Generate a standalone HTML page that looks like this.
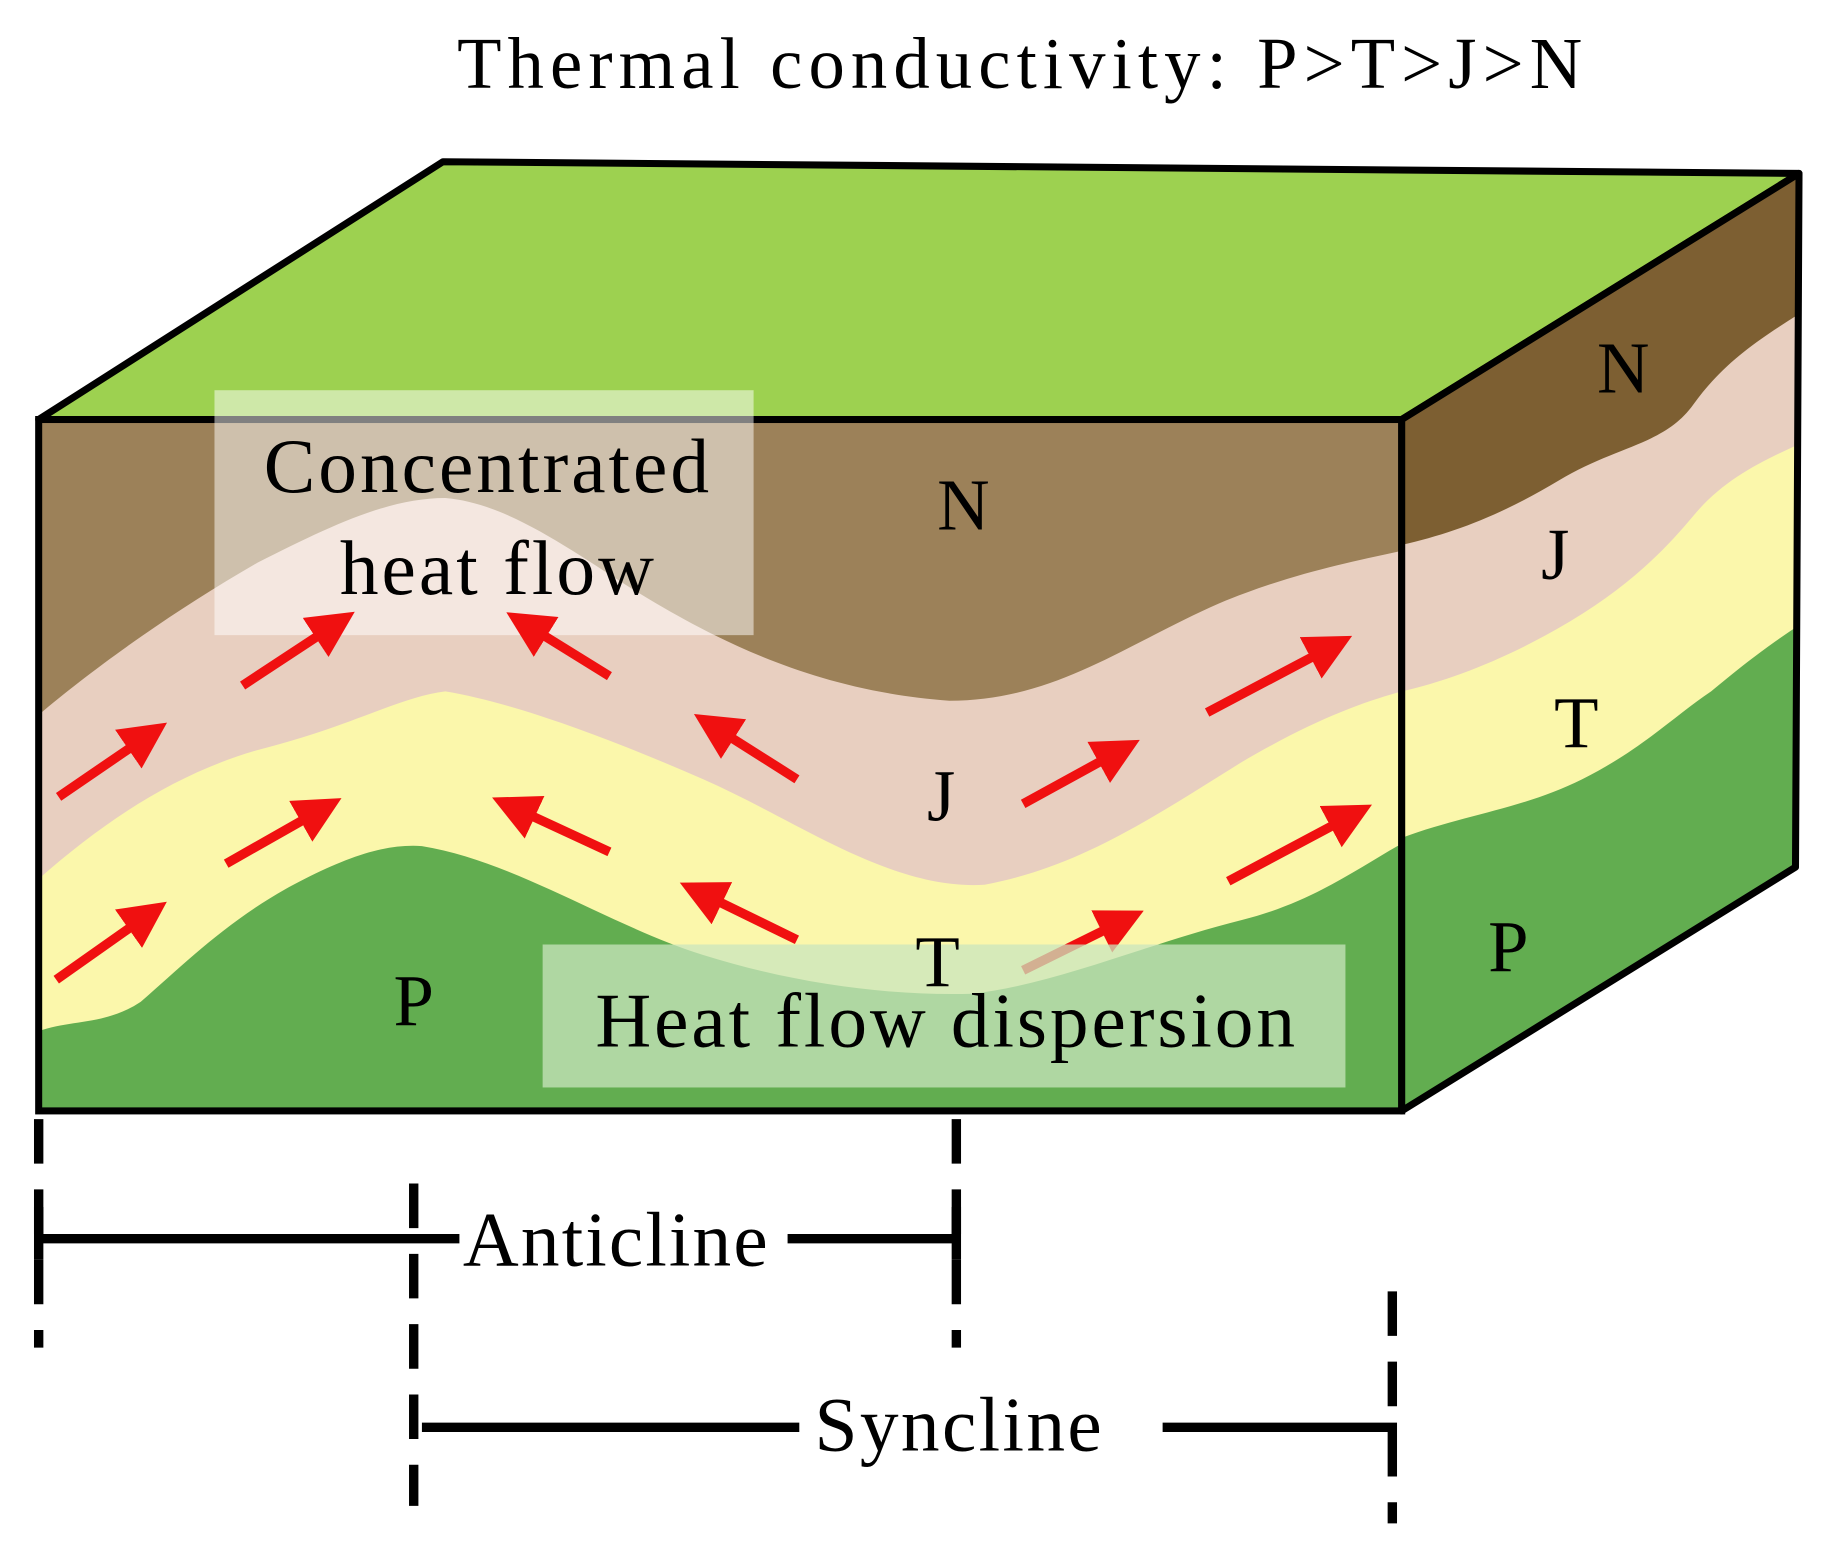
<!DOCTYPE html>
<html><head><meta charset="utf-8"><style>html,body{margin:0;padding:0;background:#fff}svg{display:block}</style></head>
<body>
<svg width="1833" height="1548" viewBox="0 0 1564 1321" preserveAspectRatio="none" xmlns="http://www.w3.org/2000/svg" font-family="Liberation Serif, serif">
<rect width="1564" height="1321" fill="#fff"/>
<text x="390" y="75" font-size="62" textLength="960" lengthAdjust="spacing">Thermal conductivity: P&gt;T&gt;J&gt;N</text>
<polygon points="33,358 378,138 1535,148 1196,358" fill="#9dd150" stroke="#000" stroke-width="6" stroke-linejoin="round"/>
<rect x="33" y="358" width="1163" height="590" fill="#9c8159"/>
<path d="M33,610 C80,570 150,520 220,480 C280,450 330,425 380,425 C440,430 500,480 560,515 C620,550 700,590 810,598 C900,598 960,550 1040,515 C1100,490 1150,480 1196,470 L1196,948 L33,948 Z" fill="#e8cfc0"/>
<path d="M33,750 C90,700 150,660 220,640 C300,620 340,595 380,590 C440,600 520,630 600,665 C680,700 760,760 840,755 C920,740 980,700 1060,650 C1120,615 1160,600 1196,590 L1196,948 L33,948 Z" fill="#fbf7ab"/>
<path d="M33,880 C60,870 90,875 120,855 C160,820 200,780 260,750 C300,730 330,720 360,722 C440,735 520,790 600,815 C680,840 760,850 830,848 C900,840 980,805 1060,785 C1120,770 1160,740 1196,720 L1196,948 L33,948 Z" fill="#62ad50"/>
<rect x="33" y="358" width="1163" height="590" fill="none" stroke="#000" stroke-width="6"/>
<polygon points="1196,358 1535,148 1532,740 1196,948" fill="#7d5f32"/>
<path d="M1196,465 C1240,455 1280,440 1330,410 C1380,380 1420,380 1445,345 C1470,310 1500,290 1535,268 L1532,740 L1196,948 Z" fill="#e8cfc0"/>
<path d="M1196,590 C1240,580 1290,560 1340,530 C1390,500 1420,470 1445,440 C1470,410 1500,395 1533,380 L1532,740 L1196,948 Z" fill="#fbf7ab"/>
<path d="M1196,715 C1250,695 1300,690 1350,665 C1400,640 1430,610 1460,590 C1490,565 1510,550 1533,535 L1532,740 L1196,948 Z" fill="#62ad50"/>
<polygon points="1196,358 1535,148 1532,740 1196,948" fill="none" stroke="#000" stroke-width="6" stroke-linejoin="round"/>
<rect x="183" y="333" width="460" height="209" fill="#fff" opacity="0.5"/>
<defs><marker id="a" markerWidth="5" markerHeight="5" refX="2.5" refY="2.5" orient="auto" markerUnits="strokeWidth"><path d="M0,0 L5,2.5 L0,5 Z" fill="#f01010"/></marker></defs>
<g stroke="#f01010" stroke-width="8" marker-end="url(#a)">
<line x1="50" y1="680" x2="126" y2="628"/>
<line x1="207" y1="585" x2="286" y2="533"/>
<line x1="520" y1="577" x2="449" y2="533"/>
<line x1="680" y1="665" x2="609" y2="620"/>
<line x1="873" y1="686" x2="955" y2="641"/>
<line x1="1030" y1="608" x2="1136" y2="552"/>
<line x1="48" y1="836" x2="126" y2="781"/>
<line x1="193" y1="737" x2="274" y2="691"/>
<line x1="520" y1="727" x2="438" y2="689"/>
<line x1="680" y1="802" x2="598" y2="762"/>
<line x1="873" y1="828" x2="958" y2="786"/>
<line x1="1048" y1="752" x2="1153" y2="696"/>
</g>
<rect x="463" y="806" width="685" height="122" fill="#c9e6bd" opacity="0.75"/>
<g font-size="62" text-anchor="middle">
<text x="822" y="452">N</text><text x="803" y="700">J</text><text x="800" y="842">T</text><text x="353" y="875">P</text>
<text x="1385" y="335">N</text><text x="1327" y="494">J</text><text x="1345" y="638">T</text><text x="1287" y="829">P</text>
</g>
<g font-size="66">
<text x="225" y="420" textLength="380" lengthAdjust="spacing">Concentrated</text>
<text x="290" y="507" textLength="268" lengthAdjust="spacing">heat flow</text>
<text x="508" y="893" textLength="597" lengthAdjust="spacing">Heat flow dispersion</text>
<text x="395" y="1080" textLength="260" lengthAdjust="spacing">Anticline</text>
<text x="695" y="1238" textLength="245" lengthAdjust="spacing">Syncline</text>
</g>
<g stroke="#000" stroke-width="8" stroke-dasharray="38,22">
<line x1="33" y1="955" x2="33" y2="1150"/>
<line x1="353" y1="1010" x2="353" y2="1285"/>
<line x1="816" y1="955" x2="816" y2="1150"/>
<line x1="1188" y1="1102" x2="1188" y2="1300"/>
</g>
<g stroke="#000" stroke-width="8">
<line x1="33" y1="1057" x2="392" y2="1057"/>
<line x1="672" y1="1057" x2="816" y2="1057"/>
<line x1="33" y1="1030" x2="33" y2="1075"/>
<line x1="816" y1="1030" x2="816" y2="1075"/>
<line x1="360" y1="1218" x2="682" y2="1218"/>
<line x1="992" y1="1218" x2="1192" y2="1218"/>
</g>
</svg>
</body></html>
